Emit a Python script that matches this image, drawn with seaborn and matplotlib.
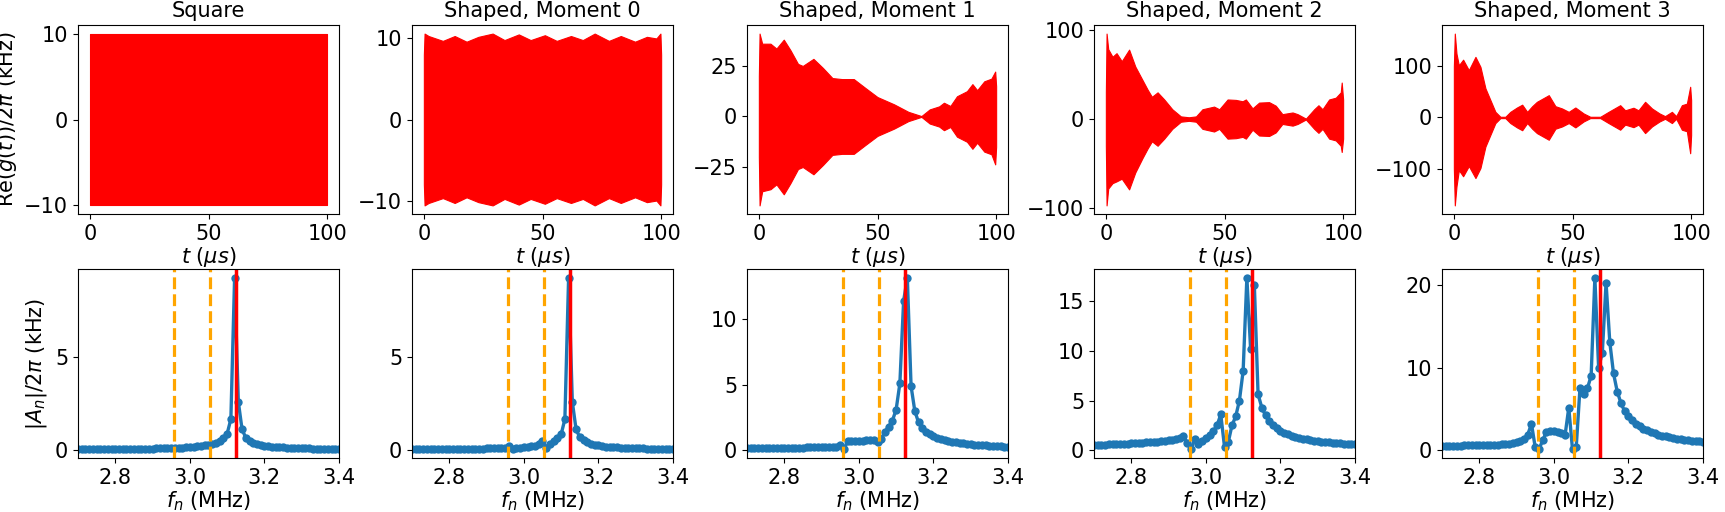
import numpy as np
import pandas as pd
import matplotlib
matplotlib.use("Agg")
import matplotlib.pyplot as plt
import seaborn as sns

# ---- top row: envelope of Re(g(t))/2pi (kHz) ----
titles = ["Square", "Shaped, Moment 0", "Shaped, Moment 1", "Shaped, Moment 2", "Shaped, Moment 3"]

sq_t = [0, 100]
sq_hi = [10, 10]
sq_lo = [-10, -10]

m0_t = [0, 0.3, 2, 5, 8, 13, 18, 23, 29, 34, 40, 45, 51, 56, 62, 67, 72, 78, 83, 89, 94, 98, 99.7, 100]
m0_hi = [8, 10.6, 10.3, 10.0, 9.7, 10.3, 9.6, 10.2, 10.6, 9.8, 10.5, 9.8, 10.4, 9.7, 10.3, 9.8,
         10.6, 9.7, 10.3, 9.6, 10.2, 10.0, 10.6, 8]
m0_lo = [-8, -10.6, -10.3, -10.0, -9.7, -10.3, -9.6, -10.2, -10.6, -9.8, -10.5, -9.8, -10.4, -9.7,
         -10.3, -9.8, -10.6, -9.7, -10.3, -9.6, -10.2, -10.0, -10.6, -8]

m1_t = [0, 0.3, 1.4, 4.9, 7.4, 10.5, 13.3, 16.5, 18.5, 23, 27, 31, 35, 40, 45, 50, 57, 63, 68.5,
        72, 76, 78, 80.7, 83.5, 87.7, 90, 92, 95, 98, 99.6, 100]
m1_hi = [20, 41, 36, 36, 33.6, 38, 32.8, 26, 25, 28.5, 24, 19, 18.5, 18.5, 14, 9.6, 6, 2.3, 0.2,
         3.5, 5, 6.8, 5.2, 10, 12.5, 16, 13, 17.4, 18.7, 22.2, 15]
m1_lo = [-20, -44, -37, -36, -33.6, -38.5, -33, -26, -25, -28.6, -24, -19, -18.5, -18.5, -14, -9.6,
         -6, -2.3, -0.2, -3.5, -5, -6.8, -5.2, -10, -12.5, -16, -13, -17.4, -18.7, -23.7, -15]

m2_t = [0, 0.3, 1, 2.8, 4.5, 6.7, 9.8, 12.4, 15.4, 17.6, 19.4, 21.8, 24.6, 28, 31.6, 35, 38, 40.7,
        45.6, 47.8, 51.3, 54.8, 57.6, 59, 61.8, 64.6, 68.8, 71.6, 74.4, 78.7, 80.8, 84.3, 87.8,
        89.6, 91.3, 94.1, 96.9, 99, 99.4, 100]
m2_hi = [30, 96, 78.5, 70, 74, 65, 78, 59, 44, 33, 25, 30, 22, 11, 3, 2, 3, 11, 14, 11, 22, 21.5,
         20, 22, 12, 18.5, 19, 15, 5.5, 7.4, 5.5, 0.5, 11, 15.5, 11, 22, 24, 30, 41, 22]
m2_lo = [-30, -97, -78, -72, -70, -67, -79, -60, -44, -33, -25, -30, -22, -11, -3, -2, -3, -11, -14,
         -11, -22, -21.5, -20, -22, -12, -18.5, -19, -15, -5.5, -7.4, -5.5, -0.5, -11, -15.5, -11,
         -22, -24, -30, -37, -22]

m3_t = [0, 0.4, 1.1, 2.1, 3.9, 6.3, 9.1, 11.2, 13.3, 15.4, 17.5, 19.6, 21.7, 23.8, 26.6, 28.8,
        30.9, 33, 35, 40, 42.8, 45.6, 48.4, 51.2, 54.7, 57.5, 61.7, 65.2, 70.1, 72.2, 75.7, 77.8,
        80.6, 83.5, 86.7, 89, 91.9, 93.7, 96.1, 98.2, 99.6, 100]
m3_hi = [100, 164, 125, 102, 113, 92.5, 118.5, 99, 57, 34, 11, 1.3, 1.3, 11, 19.5, 25, 11, 22,
         30.6, 43.6, 22, 17.6, 11, 19.5, 7.8, 1.3, 1.3, 11, 24, 14, 19, 14, 30.6, 17.6, 7.8, 2.6,
         11, 2.6, 24, 27, 60, 34]
m3_lo = [-100, -172, -135, -103, -115, -95, -118.5, -99, -57, -34, -11, -1.3, -1.3, -11, -19.5,
         -25, -11, -22, -30.6, -43.6, -22, -17.6, -11, -19.5, -7.8, -1.3, -1.3, -11, -24, -14,
         -19, -14, -30.6, -17.6, -7.8, -2.6, -11, -2.6, -24, -27, -70, -34]

top_yticks = [[-10, 0, 10], [-10, 0, 10], [-25, 0, 25], [-100, 0, 100], [-100, 0, 100]]

# ---- bottom row: |A_n|/2pi (kHz) vs f_n (MHz) ----
f_mhz = [2.70, 2.71, 2.72, 2.73, 2.74, 2.75, 2.76, 2.77, 2.78, 2.79,
         2.80, 2.81, 2.82, 2.83, 2.84, 2.85, 2.86, 2.87, 2.88, 2.89,
         2.90, 2.91, 2.92, 2.93, 2.94, 2.95, 2.96, 2.97, 2.98, 2.99,
         3.00, 3.01, 3.02, 3.03, 3.04, 3.05, 3.06, 3.07, 3.08, 3.09,
         3.10, 3.11, 3.12, 3.13, 3.14, 3.15, 3.16, 3.17, 3.18, 3.19,
         3.20, 3.21, 3.22, 3.23, 3.24, 3.25, 3.26, 3.27, 3.28, 3.29,
         3.30, 3.31, 3.32, 3.33, 3.34, 3.35, 3.36, 3.37, 3.38, 3.39,
         3.40]

amp_square = [.052, .053, .055, .056, .058, .059, .061, .062, .064, .066,
              .068, .070, .073, .075, .078, .081, .084, .087, .091, .095,
              .099, .104, .109, .114, .121, .128, .135, .144, .154, .166,
              .180, .196, .215, .238, .267, .303, .352, .419, .518, .65,
              .90, 1.68, 9.30, 2.61, 1.13, .68, .52, .42, .35, .30,
              .26, .23, .205, .186, .170, .157, .145, .136, .127, .119,
              .113, .106, .101, .096, .092, .088, .084, .080, .077, .074,
              .071]
amp_m0 = [.05, .05, .055, .055, .06, .06, .06, .065, .065, .07,
          .07, .07, .075, .075, .08, .08, .085, .09, .09, .095,
          .10, .105, .11, .12, .13, .15, .22, .06, .12, .15,
          .17, .19, .22, .25, .32, .50, .15, .35, .50, .65,
          .86, 1.67, 9.28, 2.60, 1.13, .70, .53, .43, .36, .30,
          .26, .23, .205, .186, .170, .157, .145, .136, .127, .119,
          .113, .106, .101, .096, .092, .088, .084, .080, .077, .074,
          .071]
amp_m1 = [.15, .15, .155, .16, .16, .165, .165, .17, .17, .175,
          .18, .18, .185, .19, .19, .195, .20, .205, .21, .215,
          .22, .225, .23, .24, .25, .42, .05, .70, .68, .70,
          .71, .73, .75, .78, .80, .60, .85, 1.40, 1.80, 2.25,
          3.10, 5.10, 11.40, 13.20, 4.90, 3.00, 2.12, 1.70, 1.42, 1.22,
          1.06, .94, .85, .77, .70, .645, .595, .55, .51, .48,
          .45, .42, .40, .375, .355, .335, .315, .30, .285, .27,
          .26]
amp_m2 = [.52, .53, .55, .56, .58, .59, .61, .63, .65, .67,
          .69, .71, .73, .76, .78, .81, .84, .87, .91, .95,
          1.00, 1.06, 1.13, 1.25, 1.45, .72, .08, 1.10, .65, .90,
          1.20, 1.50, 1.90, 2.50, 3.60, .35, .80, 2.50, 3.40, 5.00,
          8.00, 17.40, 10.20, 16.70, 5.65, 4.30, 3.50, 2.90, 2.50, 2.20,
          1.95, 1.75, 1.60, 1.45, 1.35, 1.25, 1.16, 1.08, 1.02, .96,
          .91, .87, .83, .79, .76, .73, .70, .67, .65, .62,
          .60]
amp_m3 = [.52, .53, .54, .55, .56, .57, .58, .59, .60, .61,
          .62, .63, .64, .66, .67, .69, .71, .74, .78, .85,
          .95, 1.10, 1.35, 1.90, 3.20, .35, .10, 1.20, 2.20, 2.35,
          2.30, 2.20, 2.05, 1.80, 5.15, .10, .40, 7.50, 6.80, 7.50,
          9.00, 20.90, 10.00, 11.80, 20.30, 13.10, 9.30, 7.10, 5.70, 4.70,
          4.10, 3.60, 3.20, 2.90, 2.60, 2.40, 2.20, 2.05, 1.90, 1.78,
          1.67, 1.57, 1.48, 1.41, 1.34, 1.27, 1.21, 1.16, 1.11, 1.06,
          1.02]

bot_yticks = [[0, 5], [0, 5], [0, 5, 10], [0, 5, 10, 15], [0, 10, 20]]

f_side = [2.957, 3.055]   # dashed orange markers
f_drive = 3.123           # red line

FS = 15
plt.rcParams['font.size'] = FS

envelopes = [(sq_t, sq_hi, sq_lo), (m0_t, m0_hi, m0_lo), (m1_t, m1_hi, m1_lo),
             (m2_t, m2_hi, m2_lo), (m3_t, m3_hi, m3_lo)]
spectra = [amp_square, amp_m0, amp_m1, amp_m2, amp_m3]

fig, axes = plt.subplots(2, 5, figsize=(17.25, 5.12), dpi=100)
lefts = [78, 412, 747, 1094, 1442]
W, H = 1725.0, 512.0

for i in range(5):
    ax = axes[0, i]
    ax.set_position([lefts[i] / W, (H - 214) / H, 261 / W, 189 / H])
    t, hi, lo = envelopes[i]
    ax.fill_between(t, lo, hi, color='red', linewidth=0.8, edgecolor='red')
    ax.set_yticks(top_yticks[i])
    ax.set_xticks([0, 50, 100])
    ax.set_title(titles[i], fontsize=FS)
    ax.set_xlabel(r'$t$ ($\mu s$)', fontsize=FS, labelpad=1)
    ax.tick_params(labelsize=FS)

    ax = axes[1, i]
    ax.set_position([lefts[i] / W, (H - 458) / H, 261 / W, 189 / H])
    df = pd.DataFrame({'f': f_mhz, 'amp': spectra[i]})
    sns.lineplot(data=df, x='f', y='amp', ax=ax, color='#1f77b4', linewidth=2.4,
                 marker='o', markersize=6, markeredgewidth=0)
    for fs in f_side:
        ax.axvline(fs, color='orange', linestyle='--', linewidth=2.3)
    ax.axvline(f_drive, color='red', linewidth=2.5)
    ax.set_xlim(2.7, 3.4)
    ax.set_xticks([2.8, 3.0, 3.2, 3.4])
    ax.set_yticks(bot_yticks[i])
    ax.set_xlabel(r'$f_n$ (MHz)', fontsize=FS, labelpad=1)
    ax.set_ylabel('')
    ax.tick_params(labelsize=FS)

axes[0, 0].set_ylabel(r'Re$(g(t))/2\pi$ (kHz)', fontsize=FS)
axes[1, 0].set_ylabel(r'$|A_n|/2\pi$ (kHz)', fontsize=FS)

plt.savefig('out.png', dpi=100)
